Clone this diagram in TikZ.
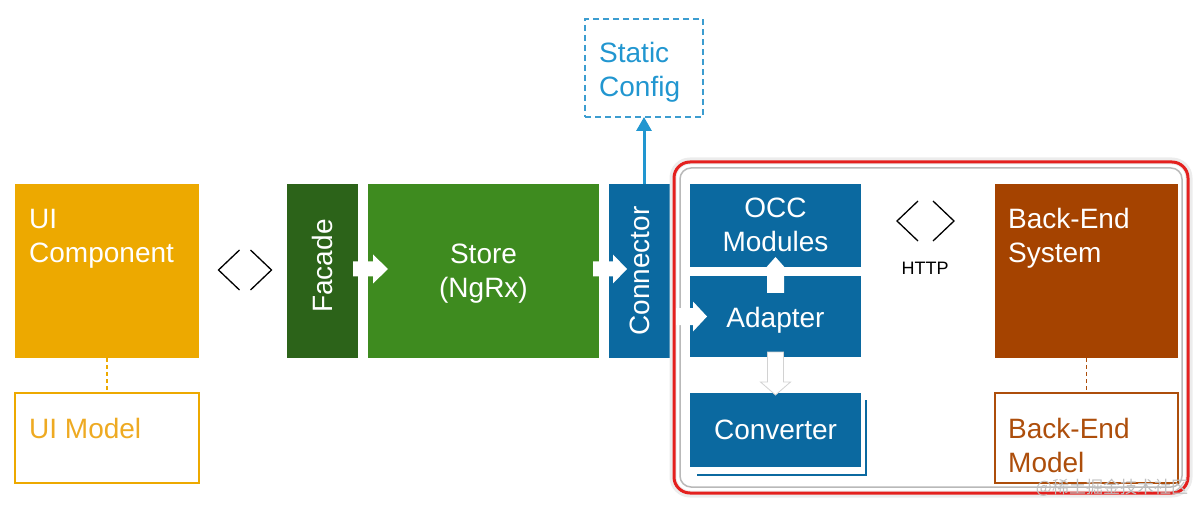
\documentclass[tikz,border=0pt]{standalone}
\usepackage{fontspec}
\setmainfont{Liberation Sans}
\newfontfamily\cjk{Noto Sans CJK SC}
\usetikzlibrary{arrows.meta,calc}
\definecolor{uiorange}{HTML}{EDA900}
\definecolor{uitextc}{HTML}{EEAA22}
\definecolor{facadegreen}{HTML}{2C6319}
\definecolor{storegreen}{HTML}{3E8B1F}
\definecolor{occblue}{HTML}{0B69A0}
\definecolor{staticborder}{HTML}{3C9DD0}
\definecolor{statictext}{HTML}{2196D0}
\definecolor{rust}{HTML}{A54300}
\definecolor{rusttext}{HTML}{AD4E0B}
\definecolor{framered}{HTML}{E4201E}
\begin{document}
\begin{tikzpicture}[x=1pt,y=-1pt,
  box/.style={rectangle, inner sep=0pt, outer sep=0pt, anchor=north west},
  big/.style={font=\fontsize{28}{34}\selectfont},
  tl/.style={big, anchor=base west, align=left, inner sep=0pt},
  tc/.style={big, anchor=base, align=center, inner sep=0pt, text=white},
  chev/.style={line width=1.3pt, black},
  pics/chevrons/.style={code={
    \draw[chev] (-#1,-20) -- (-#1-21,0) -- (-#1,20) (#1,-20) -- (#1+21,0) -- (#1,20);}},
  pics/blockarrow/.style n args={4}{code={
    \path[pic actions] (0,-#2) -- (#1-#4,-#2) -- (#1-#4,-#3) -- (#1,0) -- (#1-#4,#3) -- (#1-#4,#2) -- (0,#2) -- cycle;}},
]
\useasboundingbox (0,0) rectangle (1200,505);

% UI side
\node[box, fill=uiorange, minimum width=184, minimum height=174] (ui) at (15,184) {};
\node[tl, text=white] (uitext) at (29,262) {UI\\Component};
\node[box, draw=uiorange, line width=1.5pt, minimum width=184, minimum height=90] (uimodel) at (15,393) {};
\node[tl, text=uitextc] (uimodeltext) at (29,438) {UI Model};
\draw[uiorange, line width=1.3pt, dash pattern=on 4pt off 3pt] (ui.south) -- (uimodel.north);

% Green / blue column
\node[box, fill=facadegreen, minimum width=71, minimum height=174, big, text=white] (facade) at (287,184) {\rotatebox{90}{\hspace{10pt}Facade}};
\node[box, fill=storegreen, minimum width=231, minimum height=174] (store) at (368,184) {};
\node[tc] (storetext) at (483.5,298) {Store\\(NgRx)};
\node[box, fill=occblue, minimum width=62, minimum height=174, big, text=white] (connector) at (609,184) {\rotatebox{90}{Connector}};

\pic at ($(ui.east)!0.5!(facade.west)+(2,-1)$) {chevrons=5.5};

\node[box, draw=staticborder, line width=1.5pt, dash pattern=on 6pt off 4pt, minimum width=118, minimum height=98] (static) at (585,19) {};
\node[tl, text=statictext] (statictxt) at (599,97) {Static\\Config};
\draw[statictext, line width=3pt, -{Triangle[width=15pt,length=14pt]}] (connector.north -| static.south) -- (static.south);

% Frame
\draw[gray!15, line width=7pt, rounded corners=17pt] (673,161) rectangle (1189,494);
\draw[framered, line width=3pt, rounded corners=16pt] (674,162) rectangle (1188,493);
\draw[gray!55, line width=1.5pt, rounded corners=11pt] (680,168) rectangle (1182,487);

% Inside frame
\node[box, fill=occblue, minimum width=171, minimum height=83] (occ) at (690,184) {};
\node[tc] (occtext) at (775.5,252) {OCC\\Modules};
\node[box, fill=occblue, minimum width=171, minimum height=81] (adapter) at (690,276) {};
\node[tc] (adaptertext) at (775.5,327) {Adapter};
\node[box, fill=occblue, minimum width=171, minimum height=74] (converter) at (690,393) {};
\node[tc] (convertertext) at (775.5,439) {Converter};
\draw[occblue, line width=2.5pt] ($(converter.south west)+(7,8)$) -- ($(converter.south east)+(5,8)$) -- ($(converter.north east)+(5,7)$);

\coordinate (httpc) at (925.5,221);
\pic at (httpc) {chevrons=7.5};
\node[font=\fontsize{18}{18}\selectfont, anchor=base, inner sep=0pt] (http) at (925,275) {HTTP};

\node[box, fill=rust, minimum width=183, minimum height=174] (backend) at (995,184) {};
\node[tl, text=white] (backendtext) at (1008,262) {Back-End\\System};
\node[box, draw=rusttext, line width=1.5pt, minimum width=183, minimum height=90] (bemodel) at (995,393) {};
\node[tl, text=rusttext] (bemodeltext) at (1008,472) {Back-End\\Model};
\draw[rusttext, line width=1.3pt, dash pattern=on 4pt off 3pt] (backend.south) -- (bemodel.north);

% Block arrows
\pic[fill=white] at ($(facade.east)+(-5,-2)$) {blockarrow={35}{7.5}{14.5}{15}};
\pic[fill=white] at ($(store.east)+(-6,-2)$) {blockarrow={34}{7.5}{14.5}{14}};
\pic[fill=white] at ($(connector.east |- adapter.west)+(5,0)$) {blockarrow={31}{8.5}{15}{14}};
\pic[fill=white, rotate=90] at ($(adapter.north)+(0,17)$) {blockarrow={36}{8.5}{16}{18}};
\pic[fill=white, draw=gray!35, line width=0.8pt, rotate=-90] at ($(adapter.south)+(0,-5)$) {blockarrow={43}{8}{15}{13}};

% Watermark
\node[text=gray!50, font=\cjk\fontsize{17}{17}\selectfont, inner sep=0pt] (wm) at (1112,488) {@稀土掘金技术社区};
\end{tikzpicture}
\end{document}
